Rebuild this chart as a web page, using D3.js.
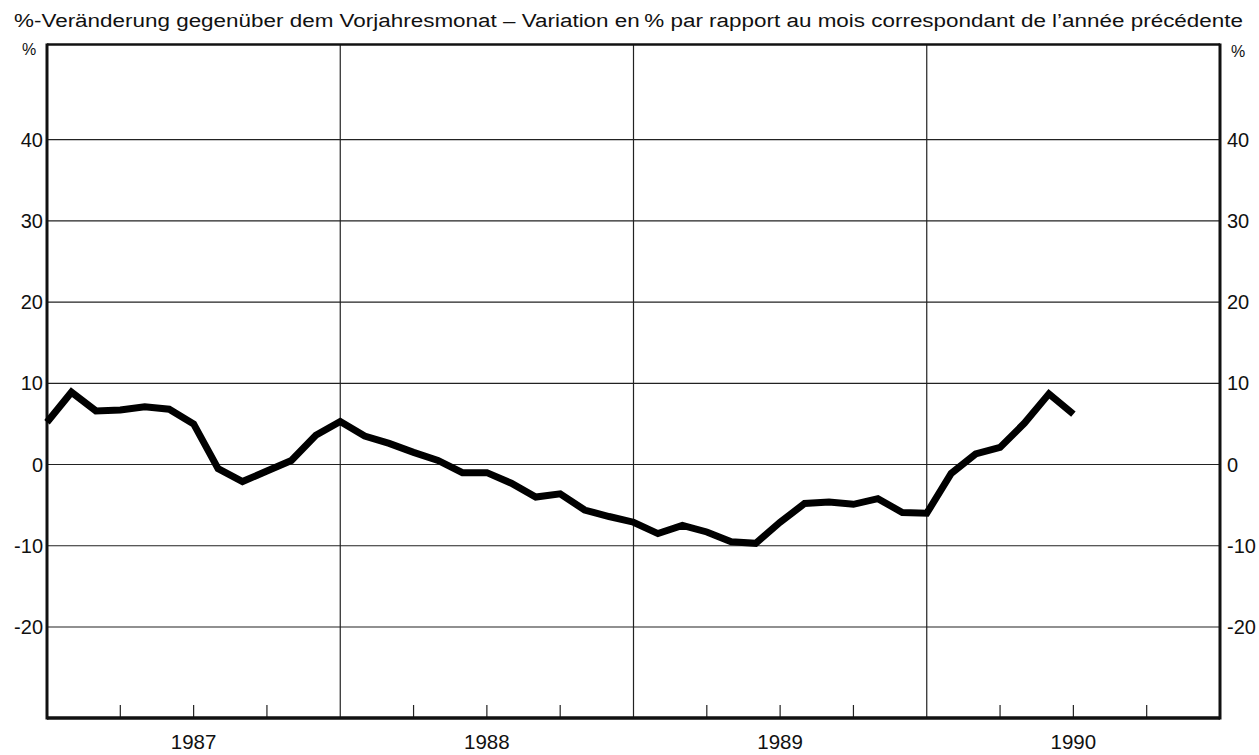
<!DOCTYPE html>
<html>
<head>
<meta charset="utf-8">
<script src="https://cdn.jsdelivr.net/npm/d3@7/dist/d3.min.js"></script>
<style>
  body { margin: 0; background: #fff; }
  text { font-family: "Liberation Sans", Arial, sans-serif; fill: #111; }
</style>
</head>
<body>
<script>
// monthly values, Jan 1987 .. Jul 1990 (% change vs. same month of previous year)
var values = [
  5.2, 8.9, 6.6, 6.7, 7.1, 6.8, 5.0, -0.5, -2.1, -0.8, 0.5, 3.6,
  5.3, 3.5, 2.6, 1.5, 0.5, -1.0, -1.0, -2.3, -4.0, -3.6, -5.6, -6.4,
  -7.1, -8.5, -7.5, -8.3, -9.5, -9.7, -7.1, -4.8, -4.6, -4.9, -4.2, -5.9,
  -6.0, -1.1, 1.3, 2.1, 5.1, 8.7, 6.2
];
var years = ['1987', '1988', '1989', '1990'];
var yTicks = [-20, -10, 0, 10, 20, 30, 40];
var title = '%-Veränderung gegenüber dem Vorjahresmonat \u2013 Variation en\u2009% par rapport au mois correspondant de l\u2019année précédente';

var width = 1259, height = 755;
// plot frame (window.top is taken, so use other names)
var plotL = 47, plotR = 1220, plotT = 44.5, plotB = 718;

var svg = d3.select('body').append('svg')
  .attr('width', width).attr('height', height);

// x: month index, 48 months over 4 years
var x = d3.scaleLinear().domain([0, 48]).range([plotL, plotR]);
var y = d3.scaleLinear().domain([-31.2, 51.7]).range([plotB, plotT]);

// title
svg.append('text')
  .attr('x', 14).attr('y', 27)
  .attr('textLength', 1229).attr('lengthAdjust', 'spacingAndGlyphs')
  .style('font-size', '18px')
  .text(title);

// horizontal grid
svg.append('g').selectAll('line').data(yTicks).enter().append('line')
  .attr('x1', plotL).attr('x2', plotR)
  .attr('y1', function(d) { return y(d); }).attr('y2', function(d) { return y(d); })
  .attr('stroke', '#222').attr('stroke-width', 1.2);

// year separators
svg.append('g').selectAll('line').data([12, 24, 36]).enter().append('line')
  .attr('x1', function(d) { return x(d); }).attr('x2', function(d) { return x(d); })
  .attr('y1', plotT).attr('y2', plotB)
  .attr('stroke', '#222').attr('stroke-width', 1.2);

// quarter ticks on the bottom, pointing up
var quarters = d3.range(0, 49, 3).filter(function(m) { return m % 12 !== 0; });
svg.append('g').selectAll('line').data(quarters).enter().append('line')
  .attr('x1', function(d) { return x(d); }).attr('x2', function(d) { return x(d); })
  .attr('y1', plotB).attr('y2', plotB - 13)
  .attr('stroke', '#222').attr('stroke-width', 1.2);

// frame
svg.append('line').attr('x1', plotL).attr('x2', plotR).attr('y1', plotT).attr('y2', plotT)
  .attr('stroke', '#111').attr('stroke-width', 2.5);
svg.append('line').attr('x1', plotL).attr('x2', plotR).attr('y1', plotB).attr('y2', plotB)
  .attr('stroke', '#111').attr('stroke-width', 3.5);
svg.append('line').attr('x1', plotL).attr('x2', plotL).attr('y1', plotT - 1).attr('y2', plotB + 1.5)
  .attr('stroke', '#111').attr('stroke-width', 3);
svg.append('line').attr('x1', plotR).attr('x2', plotR).attr('y1', plotT - 1).attr('y2', plotB + 1.5)
  .attr('stroke', '#111').attr('stroke-width', 3);

// y labels, both sides
var yl = svg.append('g').style('font-size', '20px');
yl.selectAll('text.l').data(yTicks).enter().append('text')
  .attr('class', 'l')
  .attr('x', plotL - 4).attr('y', function(d) { return y(d); })
  .attr('dy', '0.36em').attr('text-anchor', 'end')
  .text(function(d) { return d; });
yl.selectAll('text.r').data(yTicks).enter().append('text')
  .attr('class', 'r')
  .attr('x', plotR + 7).attr('y', function(d) { return y(d); })
  .attr('dy', '0.36em').attr('text-anchor', 'start')
  .text(function(d) { return d; });

svg.append('text').attr('x', 22).attr('y', 55).style('font-size', '16px').text('%');
svg.append('text').attr('x', 1231).attr('y', 57).style('font-size', '16px').text('%');

// year labels centred in each year
svg.append('g').selectAll('text').data(years).enter().append('text')
  .attr('x', function(d, i) { return x(i * 12 + 6); })
  .attr('y', 749)
  .attr('text-anchor', 'middle')
  .style('font-size', '20.5px')
  .text(function(d) { return d; });

// the series
var line = d3.line()
  .x(function(d, i) { return x(i); })
  .y(function(d) { return y(d); });

svg.append('path')
  .datum(values)
  .attr('d', line)
  .attr('fill', 'none')
  .attr('stroke', '#000')
  .attr('stroke-width', 7)
  .attr('stroke-linejoin', 'miter')
  .attr('stroke-linecap', 'butt');
</script>
</body>
</html>
